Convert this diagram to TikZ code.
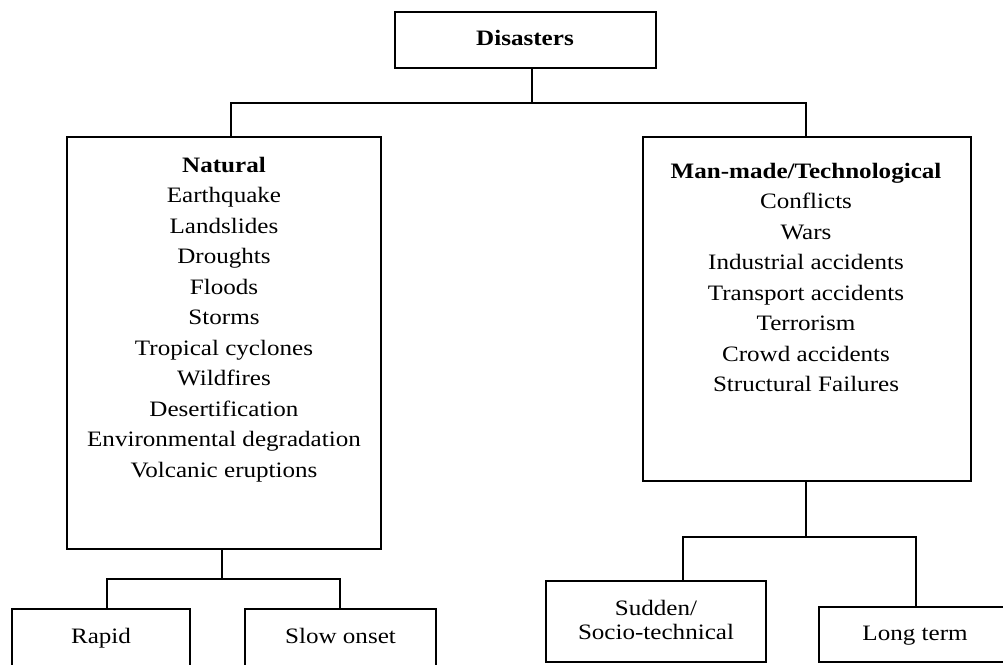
\documentclass[tikz,border=0pt]{standalone}
\usepackage{fontspec}
\setmainfont{Liberation Serif}[FakeStretch=1.14]
\begin{document}
\begin{tikzpicture}[x=1pt,y=-1pt,
  box/.style={draw, line width=1.8pt, inner sep=0pt},
  conn/.style={line width=1.8pt},
  txt/.style={font=\fontsize{22}{30.5}\selectfont, align=center, inner sep=0pt},
  txtb/.style={font=\fontsize{22}{24}\selectfont, align=center, inner sep=0pt}]
\useasboundingbox (0,0) rectangle (1003,664);
\clip (0,0) rectangle (1003,664);
% boxes
\node[box, minimum width=261pt, minimum height=56pt] (dis) at (525.5,40) {};
\node[box, minimum width=314pt, minimum height=412pt] (nat) at (224,343) {};
\node[box, minimum width=328pt, minimum height=344pt] (man) at (807,309) {};
\node[box, minimum width=178pt, minimum height=71pt] (rapid) at (101,644.5) {};
\node[box, minimum width=191pt, minimum height=71pt] (slow) at (340.5,644.5) {};
\node[box, minimum width=220pt, minimum height=81pt] (sudden) at (656,621.5) {};
\node[box, minimum width=192pt, minimum height=55pt] (long) at (915,634.5) {};
% texts
\node[txt, anchor=base] (tdis) at (525,45) {\bfseries Disasters};
\node[txt, anchor=north] (tnat) at (224,157) {\textbf{Natural}\\Earthquake\\Landslides\\Droughts\\Floods\\Storms\\Tropical cyclones\\Wildfires\\Desertification\\Environmental degradation\\Volcanic eruptions};
\node[txt, anchor=north] (tman) at (806,163) {\textbf{Man-made/Technological}\\Conflicts\\Wars\\Industrial accidents\\Transport accidents\\Terrorism\\Crowd accidents\\Structural Failures};
\node[txt, anchor=base] (trapid) at (101,643) {Rapid};
\node[txt, anchor=base] (tslow) at (340.5,643) {Slow onset};
\node[txtb, anchor=north] (tsudden) at (656,600) {Sudden/\\Socio-technical};
\node[txt, anchor=base] (tlong) at (915,640) {Long term};
% connectors
\coordinate (j1) at (532,103);
\coordinate (jn) at (231,103);
\coordinate (jm) at (806,103);
\draw[conn] (dis.south -| j1) -- (j1);
\draw[conn] (nat.north -| jn) -- (jn) -- (jm) -- (man.north -| jm);
\coordinate (k1) at (222,579);
\coordinate (kr) at (107,579);
\coordinate (ks) at (340,579);
\draw[conn] (nat.south -| k1) -- (k1);
\draw[conn] (rapid.north -| kr) -- (kr) -- (ks) -- (slow.north -| ks);
\coordinate (m1) at (806,537);
\coordinate (ms) at (683,537);
\coordinate (ml) at (916,537);
\draw[conn] (man.south -| m1) -- (m1);
\draw[conn] (sudden.north -| ms) -- (ms) -- (ml) -- (long.north -| ml);
\end{tikzpicture}
\end{document}
